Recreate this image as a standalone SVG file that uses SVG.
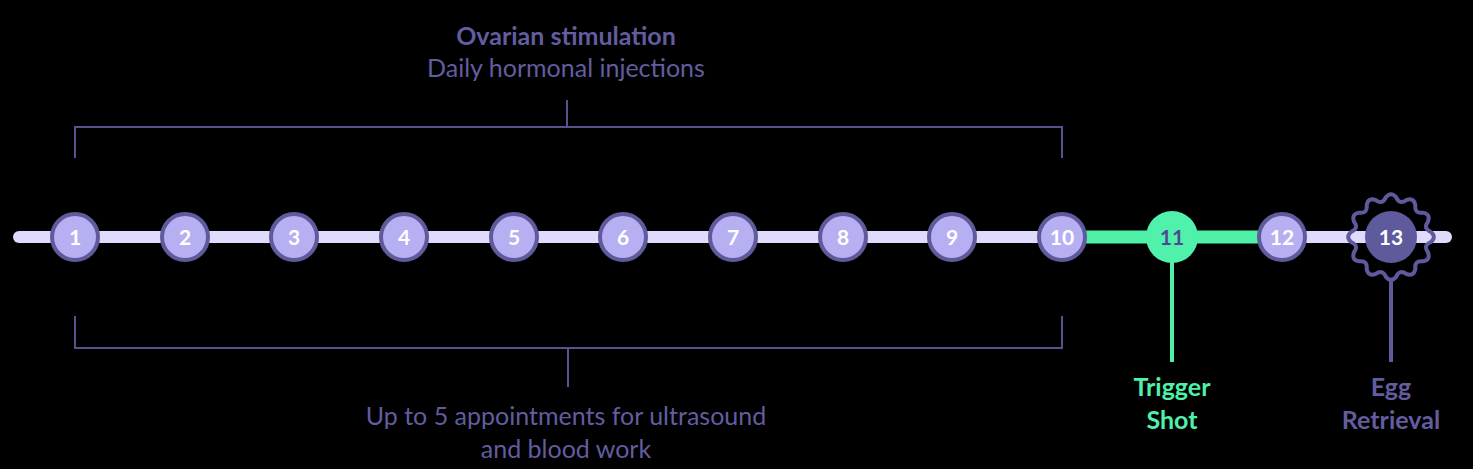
<svg xmlns="http://www.w3.org/2000/svg" width="1473" height="469" viewBox="0 0 1473 469">
<style>
.bg{fill:#000}
.lbl{font-family:Lato,"Source Sans Pro","Noto Sans",sans-serif;font-size:25px;fill:#625d9f;text-anchor:middle}
.b{font-weight:700}
.brk{fill:none;stroke:#57528f;stroke-width:2}
.node circle{fill:#b6b0f3;stroke:#5f5a9b;stroke-width:4}
.num{font-family:Lato,"Noto Sans",sans-serif;font-size:21px;font-weight:700;fill:#fff;text-anchor:middle}
</style>
<rect class="bg" x="0" y="0" width="1473" height="469"/>
<g id="connectors">
<line x1="19" y1="237" x2="1446" y2="237" stroke="#dedbfc" stroke-width="12" stroke-linecap="round"/>
<line x1="1062" y1="237" x2="1282" y2="237" stroke="#4ff0a8" stroke-width="13"/>
<line x1="1172" y1="255" x2="1172" y2="362" stroke="#4ff0a8" stroke-width="4"/>
<line x1="1391" y1="278" x2="1391" y2="362" stroke="#5f5a9b" stroke-width="4"/>
<path class="brk" d="M75 158 V127 H1062 V158 M567 100 V127"/>
<path class="brk" d="M75 316 V348 H1062 V316 M568 348 V387"/>
</g>
<g id="label-top">
<text class="lbl b" x="566" y="45">Ovarian stimulation</text>
<text class="lbl" x="566" y="77">Daily hormonal injections</text>
</g>
<g id="label-bottom">
<text class="lbl" x="566" y="425">Up to 5 appointments for ultrasound</text>
<text class="lbl" x="566" y="458">and blood work</text>
</g>
<g id="node-1" class="node"><circle cx="75" cy="237" r="23"/><text class="num" x="75" y="244.5">1</text></g>
<g id="node-2" class="node"><circle cx="185" cy="237" r="23"/><text class="num" x="185" y="244.5">2</text></g>
<g id="node-3" class="node"><circle cx="294" cy="237" r="23"/><text class="num" x="294" y="244.5">3</text></g>
<g id="node-4" class="node"><circle cx="404" cy="237" r="23"/><text class="num" x="404" y="244.5">4</text></g>
<g id="node-5" class="node"><circle cx="514" cy="237" r="23"/><text class="num" x="514" y="244.5">5</text></g>
<g id="node-6" class="node"><circle cx="623" cy="237" r="23"/><text class="num" x="623" y="244.5">6</text></g>
<g id="node-7" class="node"><circle cx="733" cy="237" r="23"/><text class="num" x="733" y="244.5">7</text></g>
<g id="node-8" class="node"><circle cx="843" cy="237" r="23"/><text class="num" x="843" y="244.5">8</text></g>
<g id="node-9" class="node"><circle cx="952" cy="237" r="23"/><text class="num" x="952" y="244.5">9</text></g>
<g id="node-10" class="node"><circle cx="1062" cy="237" r="23"/><text class="num" x="1062" y="244.5">10</text></g>
<g id="node-11"><circle cx="1172" cy="237" r="26" fill="#50f1aa"/><text class="num" x="1172" y="244.5" style="fill:#4e4a92">11</text></g>
<g id="node-12" class="node"><circle cx="1282" cy="237" r="23"/><text class="num" x="1282" y="244.5">12</text></g>
<g id="node-13">
<path transform="translate(1391 237)" fill="none" stroke="#5f5a9b" stroke-width="4" stroke-linejoin="round" d="M39.658 -5.221 Q46 0 39.658 5.221 Q31.876 8.541 36.955 15.307 Q39.837 23 31.734 24.35 Q23.335 23.335 24.35 31.734 Q23 39.837 15.307 36.955 Q8.541 31.876 5.221 39.658 Q0 46 -5.221 39.658 Q-8.541 31.876 -15.307 36.955 Q-23 39.837 -24.35 31.734 Q-23.335 23.335 -31.734 24.35 Q-39.837 23 -36.955 15.307 Q-31.876 8.541 -39.658 5.221 Q-46 0 -39.658 -5.221 Q-31.876 -8.541 -36.955 -15.307 Q-39.837 -23 -31.734 -24.35 Q-23.335 -23.335 -24.35 -31.734 Q-23 -39.837 -15.307 -36.955 Q-8.541 -31.876 -5.221 -39.658 Q0 -46 5.221 -39.658 Q8.541 -31.876 15.307 -36.955 Q23 -39.837 24.35 -31.734 Q23.335 -23.335 31.734 -24.35 Q39.837 -23 36.955 -15.307 Q31.876 -8.541 39.658 -5.221 Z"/>
<circle cx="1391" cy="237" r="26" fill="#5f5a9b"/>
<text class="num" x="1391" y="244.5">13</text>
</g>
<g id="label-trigger">
<text class="lbl b" x="1172" y="396" style="fill:#4ff0a8">Trigger</text>
<text class="lbl b" x="1172" y="429" style="fill:#4ff0a8">Shot</text>
</g>
<g id="label-egg">
<text class="lbl b" x="1391" y="396">Egg</text>
<text class="lbl b" x="1391" y="429">Retrieval</text>
</g>
</svg>
